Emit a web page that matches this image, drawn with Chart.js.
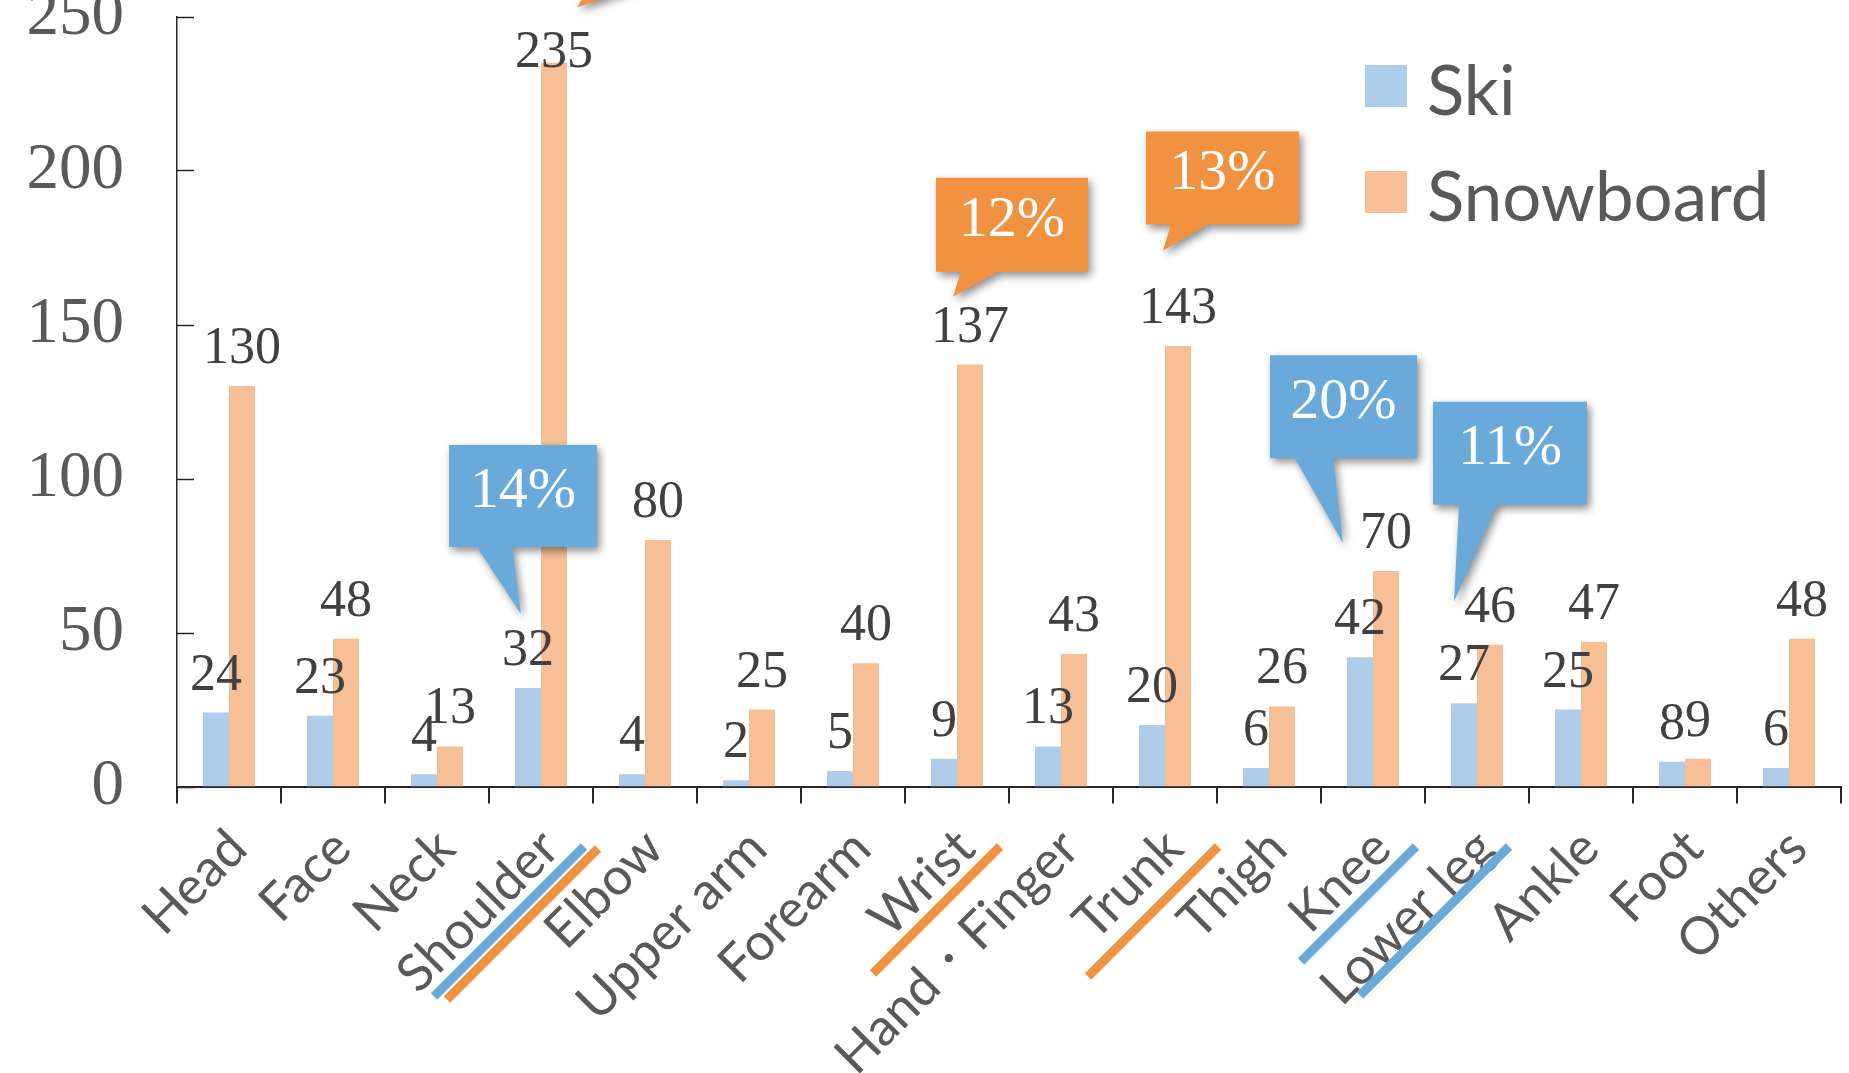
<!DOCTYPE html>
<html><head><meta charset="utf-8">
<script src="https://cdn.jsdelivr.net/npm/chart.js@4.4.1/dist/chart.umd.min.js"></script>
<style>html,body{margin:0;padding:0;background:#fff;overflow:hidden}#wrap{width:1849px;height:1073px;position:relative}</style>
</head><body><div id="wrap"><canvas id="c" width="1849" height="1073"></canvas></div>
<script>
// ---- data ----
const categories = ['Head','Face','Neck','Shoulder','Elbow','Upper arm','Forearm','Wrist','Hand・Finger','Trunk','Thigh','Knee','Lower leg','Ankle','Foot','Others'];
const skiValues = [24,23,4,32,4,2,5,9,13,20,6,42,27,25,8,6];
const snowboardValues = [130,48,13,235,80,25,40,137,43,143,26,70,46,47,9,48];
const seriesNames = ['Ski','Snowboard'];
const yTickValues = [0,50,100,150,200,250];

// ---- styles / annotations ----
const SKI_COLOR = '#AECDEA', SB_COLOR = '#F6BF95';
const BLUE = '#6AAADB', ORANGE = '#F0923F';
const callouts = [
  {cat:'Shoulder', v:56, dx:-20, text:'14%', color:BLUE, box:[-72,-169,148,102], base:[-44,-9]},
  {cat:'Wrist', v:159, dx:-4, text:'12%', color:ORANGE, box:[-17,-119,152,94], base:[8,45]},
  {cat:'Trunk', v:174, dx:-2, text:'13%', color:ORANGE, box:[-17,-119,153,93], base:[8,45]},
  {cat:'Knee', v:79, dx:-30, text:'20%', color:BLUE, box:[-73,-188,147,103], base:[-48,-10]},
  {cat:'Lower leg', v:60, dx:-23, text:'11%', color:BLUE, box:[-21,-200,154,103], base:[5,43]},
  {cat:'Shoulder', v:253, dx:36, text:'', color:ORANGE, box:[0,-140,180,93], base:[30,140]}
];
const strikes = [
  {cat:'Shoulder', color:BLUE, top:[43,60], len:150},
  {cat:'Shoulder', color:ORANGE, top:[57,62], len:151},
  {cat:'Wrist', color:ORANGE, top:[43,60], len:127},
  {cat:'Trunk', color:ORANGE, top:[53,60], len:130},
  {cat:'Knee', color:BLUE, top:[43,60], len:115},
  {cat:'Lower leg', color:BLUE, top:[32,60], len:149}
];

const decor = {
  id:'decor',
  afterDraw(chart){
    const ctx = chart.ctx, xs = chart.scales.x, ys = chart.scales.y, ca = chart.chartArea;
    ctx.save();
    // inward y ticks
    ctx.strokeStyle = '#262626'; ctx.lineWidth = 1.5;
    yTickValues.forEach(v=>{
      const y = Math.round(ys.getPixelForValue(v))+0.5;
      ctx.beginPath(); ctx.moveTo(ca.left, y); ctx.lineTo(ca.left+17, y); ctx.stroke();
    });
    // data labels
    ctx.font = '52px "Liberation Serif"'; ctx.fillStyle = '#404040';
    ctx.textAlign = 'center'; ctx.textBaseline = 'alphabetic';
    chart.data.datasets.forEach((ds,di)=>{
      chart.getDatasetMeta(di).data.forEach((bar,i)=>{
        const y = Math.max(bar.y - 23, ca.top + 50);
        ctx.fillText(String(ds.data[i]), bar.x, y);
      });
    });
    // callouts
    callouts.forEach(c=>{
      const tx = xs.getPixelForValue(categories.indexOf(c.cat)) + c.dx;
      const ty = ys.getPixelForValue(c.v);
      const bx = tx + c.box[0], by = ty + c.box[1], bw = c.box[2], bh = c.box[3];
      ctx.save();
      ctx.shadowColor = 'rgba(0,0,0,0.45)'; ctx.shadowBlur = 8; ctx.shadowOffsetX = 3; ctx.shadowOffsetY = 4;
      ctx.fillStyle = c.color;
      ctx.beginPath();
      ctx.moveTo(bx, by); ctx.lineTo(bx+bw, by); ctx.lineTo(bx+bw, by+bh);
      ctx.lineTo(tx + c.base[1], by+bh); ctx.lineTo(tx, ty); ctx.lineTo(tx + c.base[0], by+bh);
      ctx.lineTo(bx, by+bh); ctx.closePath(); ctx.fill();
      ctx.restore();
      if (c.text){
        ctx.font = '58px "Liberation Serif"'; ctx.fillStyle = '#ffffff';
        ctx.textAlign = 'center'; ctx.textBaseline = 'middle';
        ctx.fillText(c.text, bx + bw/2, by + bh/2 - 4);
      }
    });
    // legend
    const lg = [{c:SKI_COLOR,y:65},{c:SB_COLOR,y:171}];
    ctx.font = '69px Lato'; ctx.textAlign='left'; ctx.textBaseline='alphabetic';
    seriesNames.forEach((n,i)=>{
      ctx.fillStyle = lg[i].c; ctx.fillRect(1365, lg[i].y, 42, 42);
      ctx.fillStyle = '#595959'; ctx.fillText(n, 1427, lg[i].y + 50);
    });
    // strike lines over category labels
    ctx.lineWidth = 9; ctx.lineCap = 'butt';
    strikes.forEach(s=>{
      const cx = xs.getPixelForValue(categories.indexOf(s.cat));
      const x1 = cx + s.top[0], y1 = ca.bottom + s.top[1];
      ctx.strokeStyle = s.color;
      ctx.beginPath(); ctx.moveTo(x1, y1); ctx.lineTo(x1 - s.len, y1 + s.len); ctx.stroke();
    });
    ctx.restore();
  }
};

new Chart(document.getElementById('c'), {
  type:'bar',
  data:{
    labels: categories,
    datasets:[
      {label:seriesNames[0], data:skiValues, backgroundColor:SKI_COLOR, categoryPercentage:0.5, barPercentage:1.0},
      {label:seriesNames[1], data:snowboardValues, backgroundColor:SB_COLOR, categoryPercentage:0.5, barPercentage:1.0}
    ]
  },
  options:{
    responsive:false, animation:false, devicePixelRatio:1,
    layout:{autoPadding:false, padding:{top:16.5, right:8, left:0, bottom:0}},
    plugins:{legend:{display:false}, tooltip:{enabled:false}},
    scales:{
      x:{
        grid:{display:true, offset:true, drawOnChartArea:false, drawTicks:true, tickLength:17, color:'#262626', lineWidth:2},
        border:{display:true, color:'#262626', width:2},
        ticks:{autoSkip:false, minRotation:45, maxRotation:45, font:{family:'Lato', size:52}, color:'#595959', padding:14, labelOffset:9},
        afterFit(s){ s.height = 286.5; s.paddingLeft = 0; s.paddingRight = 0; }
      },
      y:{
        min:0, max:250,
        grid:{display:false, drawTicks:false},
        border:{display:true, color:'#262626', width:1.5},
        ticks:{stepSize:50, font:{family:'Liberation Serif', size:65}, color:'#595959', padding:53},
        afterFit(s){ s.width = 177; s.paddingTop = 0; s.paddingBottom = 0; }
      }
    }
  },
  plugins:[decor]
});
</script></body></html>
